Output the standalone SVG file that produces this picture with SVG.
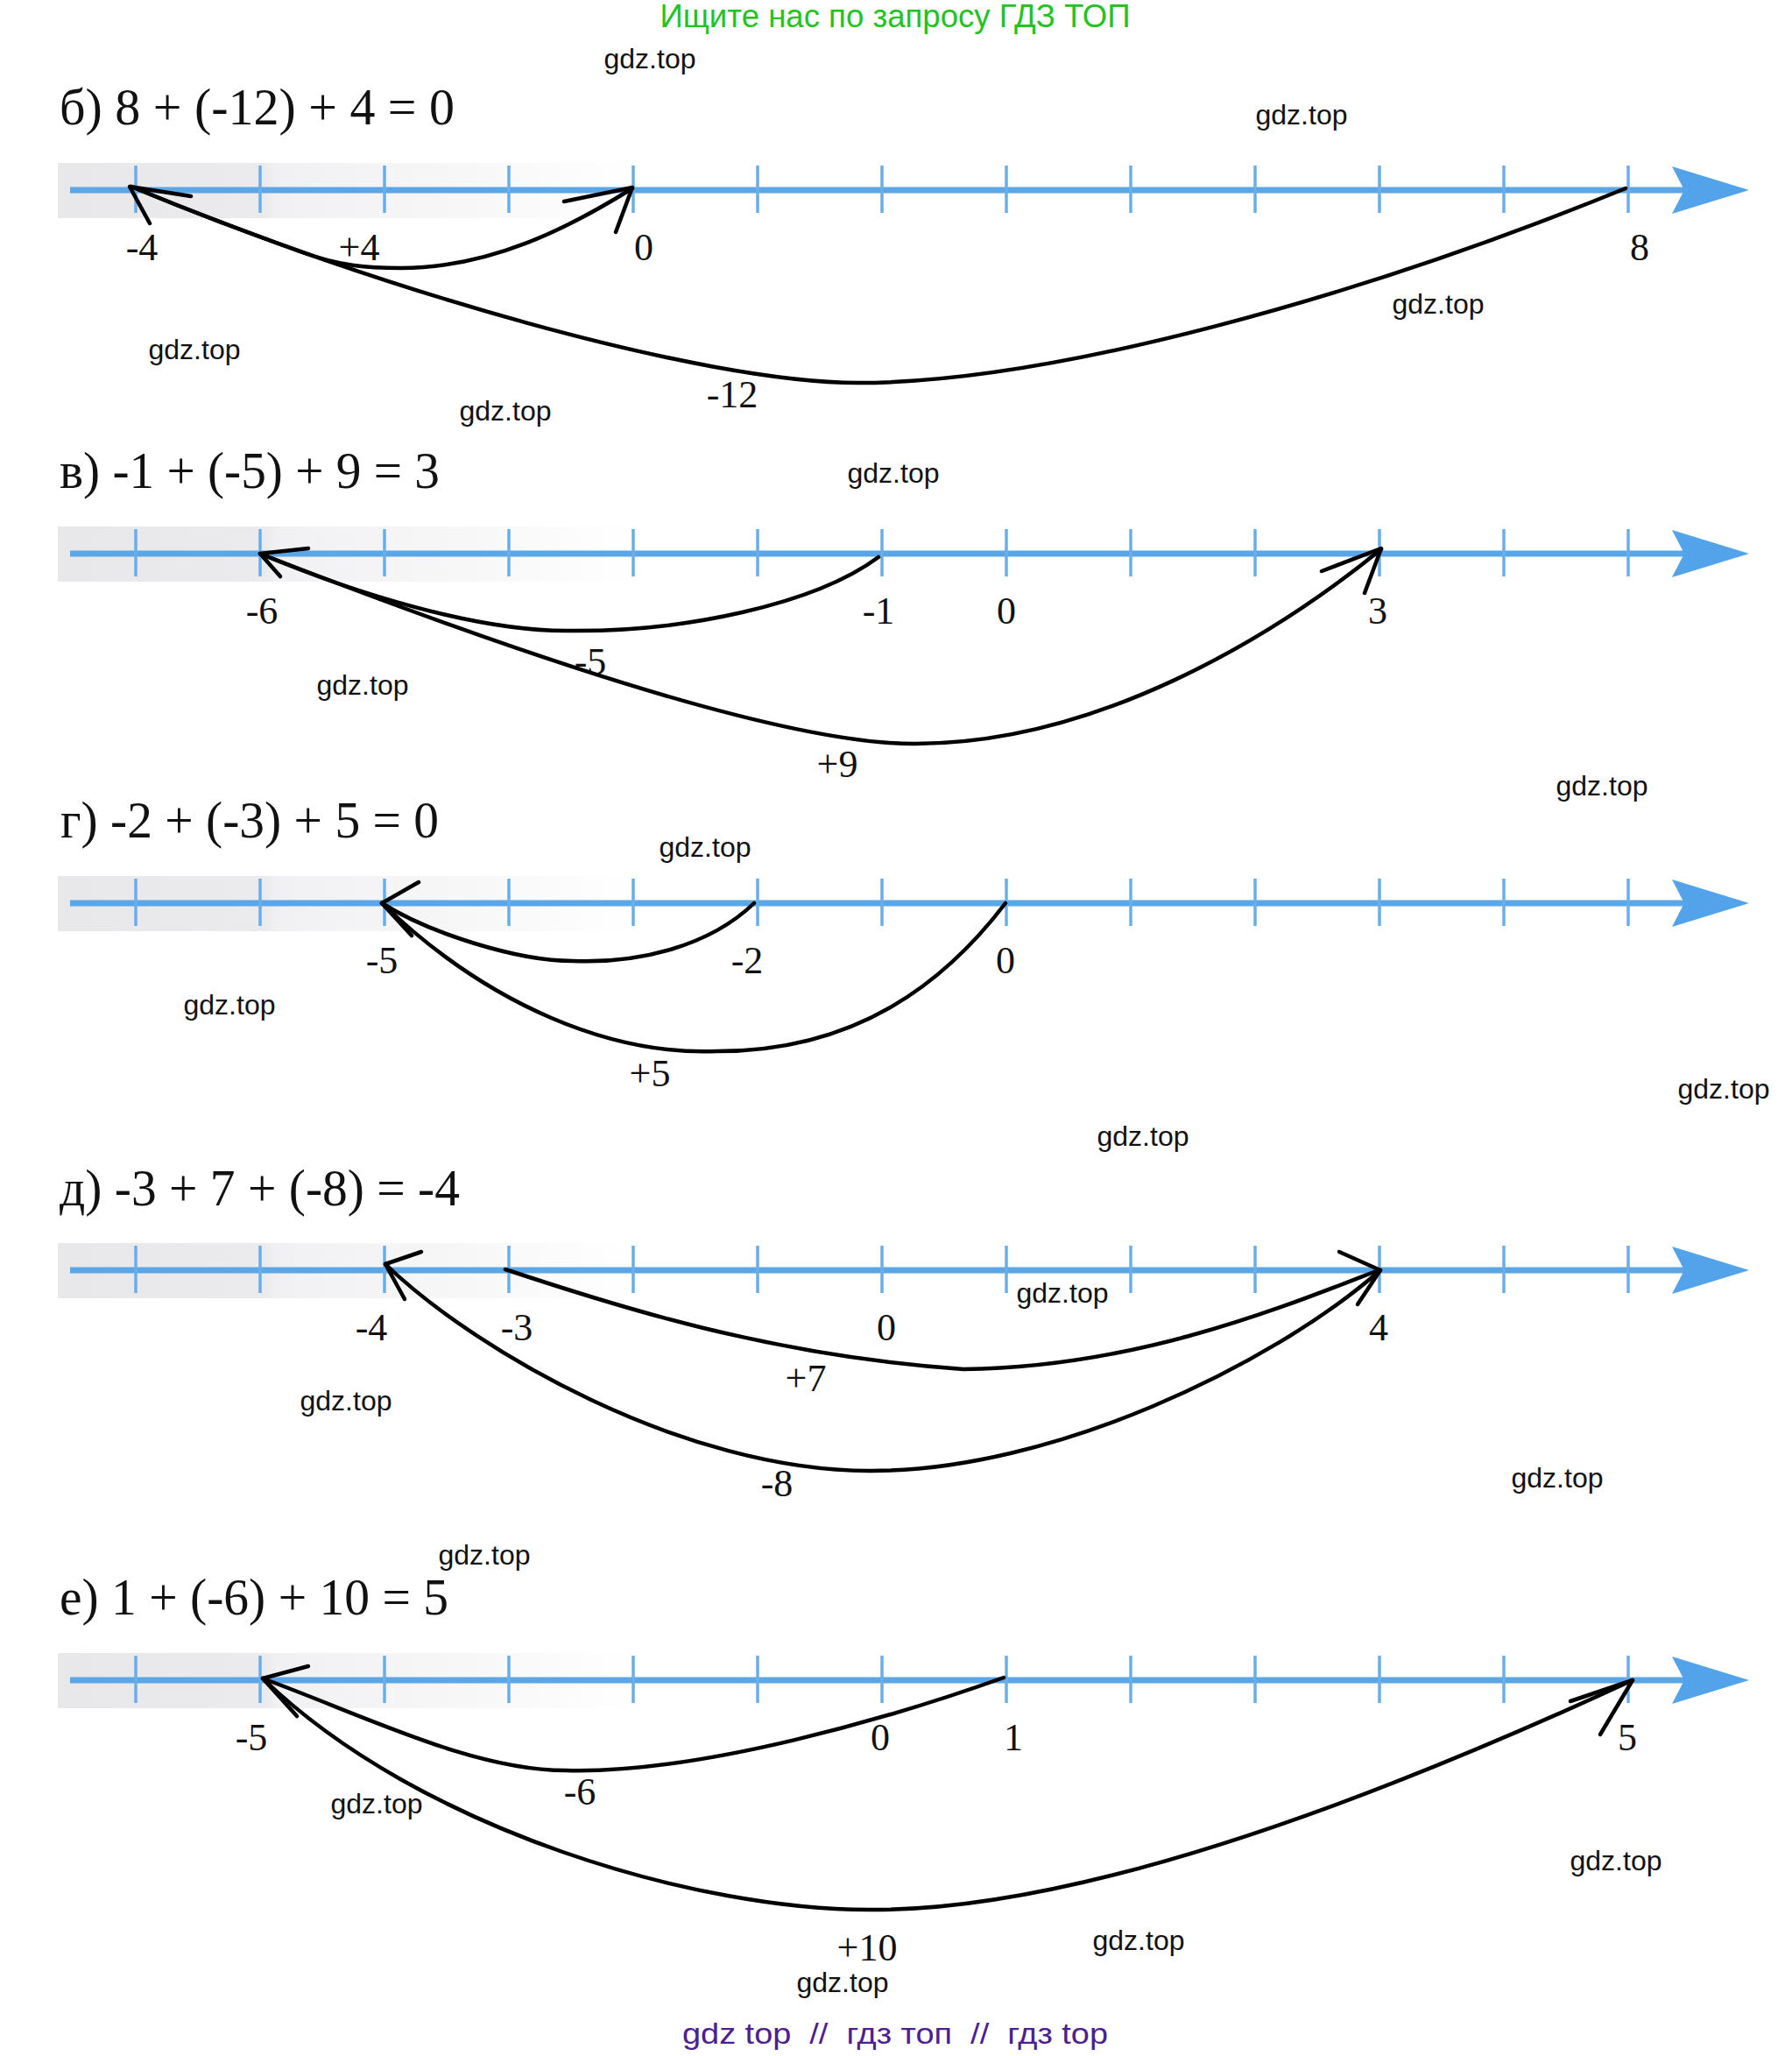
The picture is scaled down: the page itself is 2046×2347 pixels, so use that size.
<svg xmlns="http://www.w3.org/2000/svg" xmlns:xlink="http://www.w3.org/1999/xlink" width="2046" height="2347" viewBox="0 0 2046 2347">
<style>
.ttl{font-family:"Liberation Serif","Times New Roman",serif;font-size:60px;fill:#111}
.lb{font-family:"Liberation Serif","Times New Roman",serif;font-size:44px;fill:#111;text-anchor:middle}
.wm{font-family:"Liberation Sans",Arial,sans-serif;font-size:32px;fill:#111;text-anchor:middle}
.ax{stroke:#5aa6e6;stroke-width:7;fill:none}
.tk{stroke:#6aaee8;stroke-width:3.5}
.cv{stroke:#000;stroke-width:4.5;fill:none;stroke-linecap:round;stroke-linejoin:round}
</style>
<defs>
<linearGradient id="band" x1="0" y1="0" x2="1" y2="0">
<stop offset="0" stop-color="#e8e8eb"/>
<stop offset="0.36" stop-color="#ebebee"/>
<stop offset="0.38" stop-color="#f1f1f3"/>
<stop offset="0.7" stop-color="#f7f7f8"/>
<stop offset="1" stop-color="#ffffff"/>
</linearGradient>
<g id="axis">
<rect x="66" y="-31" width="660" height="63" fill="url(#band)"/>
<line class="ax" x1="80" y1="0" x2="1925" y2="0"/>
<g class="tk">
<line x1="155" y1="-28" x2="155" y2="26"/>
<line x1="297" y1="-28" x2="297" y2="26"/>
<line x1="439" y1="-28" x2="439" y2="26"/>
<line x1="581" y1="-28" x2="581" y2="26"/>
<line x1="723" y1="-28" x2="723" y2="26"/>
<line x1="865" y1="-28" x2="865" y2="26"/>
<line x1="1007" y1="-28" x2="1007" y2="26"/>
<line x1="1149" y1="-28" x2="1149" y2="26"/>
<line x1="1291" y1="-28" x2="1291" y2="26"/>
<line x1="1433" y1="-28" x2="1433" y2="26"/>
<line x1="1575" y1="-28" x2="1575" y2="26"/>
<line x1="1717" y1="-28" x2="1717" y2="26"/>
<line x1="1859" y1="-28" x2="1859" y2="26"/>
</g>
<path d="M1997,0 L1909,-27 L1923,0 L1909,27 Z" fill="#52a3e9"/>
</g>
</defs>
<rect width="2046" height="2347" fill="#fff"/>

<text x="1022" y="31" font-family="Liberation Sans, Arial, sans-serif" font-size="36" fill="#22c322" text-anchor="middle" textLength="537" lengthAdjust="spacingAndGlyphs">Ищите нас по запросу ГДЗ ТОП</text>

<g id="section-b">
<use xlink:href="#axis" href="#axis" transform="translate(0,217)"/>
<text class="ttl" x="68" y="142" textLength="451" lengthAdjust="spacingAndGlyphs">б) 8 + (-12) + 4 = 0</text>
<text class="lb" x="162" y="297">-4</text>
<text class="lb" x="410" y="297">+4</text>
<text class="lb" x="735" y="297">0</text>
<text class="lb" x="1872" y="297">8</text>
<text class="lb" x="836" y="465">-12</text>
</g>

<g id="section-v">
<use xlink:href="#axis" href="#axis" transform="translate(0,632)"/>
<text class="ttl" x="68" y="557" textLength="434" lengthAdjust="spacingAndGlyphs">в) -1 + (-5) + 9 = 3</text>
<text class="lb" x="299" y="712">-6</text>
<text class="lb" x="1003" y="712">-1</text>
<text class="lb" x="1149" y="712">0</text>
<text class="lb" x="1573" y="712">3</text>
<text class="lb" x="674" y="770">-5</text>
<text class="lb" x="956" y="887">+9</text>
</g>

<g id="section-g">
<use xlink:href="#axis" href="#axis" transform="translate(0,1031)"/>
<text class="ttl" x="69" y="956" textLength="432" lengthAdjust="spacingAndGlyphs">г) -2 + (-3) + 5 = 0</text>
<text class="lb" x="436" y="1111">-5</text>
<text class="lb" x="853" y="1111">-2</text>
<text class="lb" x="1148" y="1111">0</text>
<text class="lb" x="742" y="1240">+5</text>
</g>

<g id="section-d">
<use xlink:href="#axis" href="#axis" transform="translate(0,1450)"/>
<text class="ttl" x="68" y="1376" textLength="457" lengthAdjust="spacingAndGlyphs">д) -3 + 7 + (-8) = -4</text>
<text class="lb" x="424" y="1530">-4</text>
<text class="lb" x="590" y="1530">-3</text>
<text class="lb" x="1012" y="1530">0</text>
<text class="lb" x="1574" y="1530">4</text>
<text class="lb" x="920" y="1588">+7</text>
<text class="lb" x="887" y="1708">-8</text>
</g>

<g id="section-e">
<use xlink:href="#axis" href="#axis" transform="translate(0,1918)"/>
<text class="ttl" x="68" y="1843" textLength="444" lengthAdjust="spacingAndGlyphs">е) 1 + (-6) + 10 = 5</text>
<text class="lb" x="287" y="1998">-5</text>
<text class="lb" x="1005" y="1998">0</text>
<text class="lb" x="1157" y="1998">1</text>
<text class="lb" x="1858" y="1998">5</text>
<text class="lb" x="662" y="2060">-6</text>
<text class="lb" x="990" y="2238">+10</text>
</g>

<g id="connectors" class="cv">
<path d="M150,213 C210,238 290,268 345,288 C390,304 420,306 457,306 C560,306 650,260 722,215"/>
<path d="M644,230 L722,214 L703,265"/>
<path d="M1856,215 C1550,340 1200,437 980,437 C800,437 430,330 150,213"/>
<path d="M218,224 L148,213 L171,255"/>

<path d="M1003,636 C930,690 780,722 646,720 C540,720 400,675 297,632"/>
<path d="M352,626 L297,632 L320,658"/>
<path d="M297,632 C600,750 900,850 1045,849 C1250,849 1450,730 1577,627"/>
<path d="M1509,652 L1577,626 L1558,677"/>

<path d="M861,1031 C810,1080 730,1100 654,1097 C590,1097 490,1065 436,1031"/>
<path d="M436,1031 C560,1150 700,1205 819,1200 C980,1200 1080,1120 1148,1031"/>
<path d="M478,1007 L436,1031 L470,1068"/>

<path d="M577,1449 C700,1490 880,1548 1100,1563 C1300,1561 1470,1490 1574,1450"/>
<path d="M1576,1450 C1450,1560 1200,1679 995,1679 C780,1680 540,1540 440,1443"/>
<path d="M481,1429 L440,1443 L462,1483"/>
<path d="M1529,1429 L1576,1450 L1550,1489"/>

<path d="M1146,1915 C1020,1960 800,2025 646,2021 C540,2021 420,1960 300,1916"/>
<path d="M300,1916 C480,2090 800,2182 998,2180 C1250,2180 1600,2040 1864,1918"/>
<path d="M352,1902 L300,1916 L339,1959"/>
<path d="M1793,1942 L1864,1918 L1827,1980"/>
</g>

<g id="watermarks">
<text class="wm" x="742" y="78">gdz.top</text>
<text class="wm" x="1486" y="142">gdz.top</text>
<text class="wm" x="222" y="410">gdz.top</text>
<text class="wm" x="1642" y="358">gdz.top</text>
<text class="wm" x="577" y="480">gdz.top</text>
<text class="wm" x="1020" y="551">gdz.top</text>
<text class="wm" x="414" y="793">gdz.top</text>
<text class="wm" x="1829" y="908">gdz.top</text>
<text class="wm" x="805" y="978">gdz.top</text>
<text class="wm" x="262" y="1158">gdz.top</text>
<text class="wm" x="1968" y="1254">gdz.top</text>
<text class="wm" x="1305" y="1308">gdz.top</text>
<text class="wm" x="1213" y="1487">gdz.top</text>
<text class="wm" x="395" y="1610">gdz.top</text>
<text class="wm" x="1778" y="1698">gdz.top</text>
<text class="wm" x="553" y="1786">gdz.top</text>
<text class="wm" x="430" y="2070">gdz.top</text>
<text class="wm" x="1845" y="2135">gdz.top</text>
<text class="wm" x="1300" y="2226">gdz.top</text>
<text class="wm" x="962" y="2274">gdz.top</text>
</g>

<text x="1022" y="2333" font-family="Liberation Sans, Arial, sans-serif" font-size="34" fill="#4b2090" text-anchor="middle" style="white-space:pre" textLength="486" lengthAdjust="spacingAndGlyphs">gdz top  //  гдз топ  //  гдз top</text>
</svg>
